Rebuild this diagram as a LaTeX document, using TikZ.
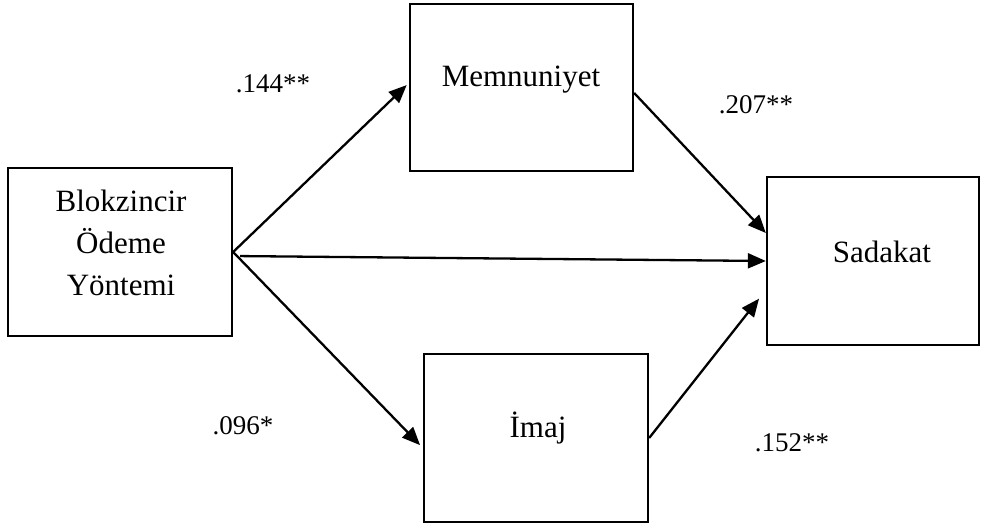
\documentclass[tikz,border=0pt]{standalone}
\usepackage{fontspec}
\setmainfont{Liberation Serif}
\usetikzlibrary{arrows.meta,calc}
\begin{document}
\begin{tikzpicture}[x=1pt,y=-1pt,
  box/.style={draw=black,line width=2.3pt,inner sep=0pt,minimum width=#1},
  lbl/.style={font=\fontsize{31}{42}\selectfont,inner sep=0pt,anchor=base},
  num/.style={font=\fontsize{27}{32}\selectfont,inner sep=0pt,anchor=base},
  conn/.style={line width=2.3pt,-{Triangle[length=18pt,width=15pt]}}]
\useasboundingbox[fill=white] (0,0) rectangle (981,526);
% boxes
\node[box=224pt,minimum height=168pt] (b) at (120,252) {};
\node[box=223pt,minimum height=167pt] (m) at (521.5,87.5) {};
\node[box=212pt,minimum height=168pt] (s) at (873,261) {};
\node[box=224pt,minimum height=168pt] (i) at (536,438) {};
% box texts
\node[lbl,align=center,anchor=north] (bt) at (121,190) {Blokzincir\\Ödeme\\Yöntemi};
\node[lbl] (mt) at (521,87) {Memnuniyet};
\node[lbl] (st) at (882,262) {Sadakat};
\node[lbl] (it) at (538,437) {İmaj};
% coefficients
\node[num] (c1) at (273,93) {.144**};
\node[num] (c2) at (756,114) {.207**};
\node[num] (c3) at (243,434) {.096*};
\node[num] (c4) at (792,451) {.152**};
% connectors
\draw[conn,shorten >=3pt] (b.east) -- ([yshift=4.5pt]m.west);
\draw[conn,shorten <=7pt] ([yshift=-4pt]b.east) -- (s.west);
\draw[conn,shorten >=4pt] (b.east) -- ([yshift=-10pt]i.west);
\draw[conn] ([yshift=-5.5pt]m.east) -- ([yshift=28pt]s.west);
\draw[conn,shorten >=11pt] (i.east) -- ([yshift=-29pt]s.west);
\end{tikzpicture}
\end{document}
